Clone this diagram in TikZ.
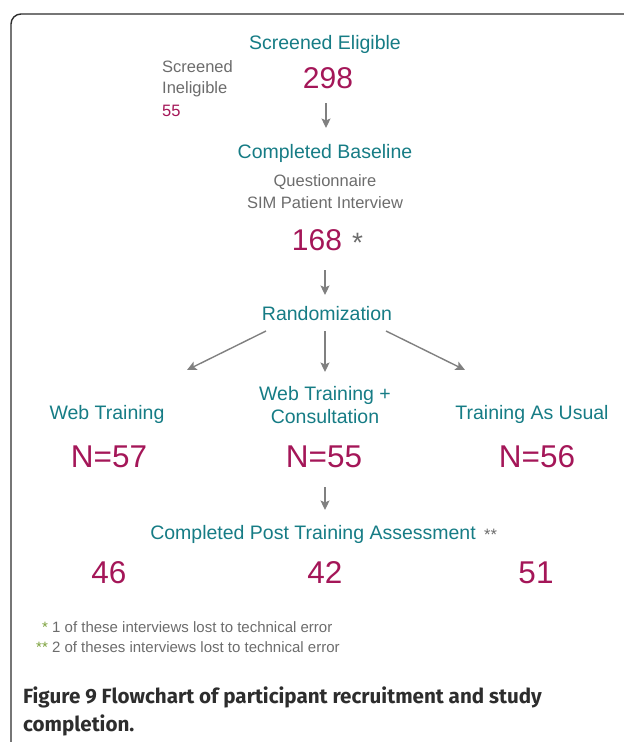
\documentclass[tikz,border=0pt]{standalone}
\usepackage{fontspec}
\setmainfont{Liberation Sans}
\newfontfamily\capfont{Fira Sans}
\usetikzlibrary{
    arrows.meta
  , positioning
}

\definecolor{flowteal}{RGB}{22,124,133}
\definecolor{flowred}{RGB}{164,22,88}
\definecolor{flowgray}{RGB}{108,108,108}
\definecolor{arrowgray}{RGB}{128,128,128}
\definecolor{stargreen}{RGB}{122,160,58}
\definecolor{framegray}{RGB}{45,45,45}

\tikzset{
    stage/.style={text=flowteal, font=\fontsize{19.5}{23}\selectfont, inner sep=0pt, anchor=base},
    note/.style={text=flowgray, font=\fontsize{16.5}{22}\selectfont, inner sep=0pt, anchor=base},
    count/.style={text=flowred, font=\fontsize{31.5}{36}\selectfont, inner sep=0pt, anchor=base},
    foot/.style={text=flowgray, font=\fontsize{15}{20}\selectfont, inner sep=0pt, anchor=base west},
    caption/.style={text=framegray, font=\capfont\bfseries\fontsize{20.6}{28}\selectfont, inner sep=0pt, anchor=base west},
    flowarrow/.style={draw=arrowgray, line width=1.4pt, -{Stealth[length=9.5pt, width=9pt, inset=2pt]}}
}

\begin{document}
\begin{tikzpicture}[x=1pt, y=-1pt]
  \useasboundingbox (0,0) rectangle (624,742);
  % Frame
  \draw[framegray, line width=1.4pt, rounded corners=10pt] (11,745) -- (11,14) -- (630,14);
  % Screening
  \node[stage] (eligible) at (325,49) {Screened Eligible};
  \node[note, anchor=base west] (inel1) at (162,72) {Screened};
  \node[note, anchor=base west] (inel2) at (162,93) {Ineligible};
  \node[note, anchor=base west, text=flowred] (inel3) at (162,116) {55};
  \node[count, font=\fontsize{30}{36}\selectfont] (n298) at (328,88) {298};
  % Baseline
  \node[stage] (baseline) at (325,158) {Completed Baseline};
  \node[note] (quest) at (325,186) {Questionnaire};
  \node[note] (sim) at (325,208) {SIM Patient Interview};
  \node[count, font=\fontsize{30}{36}\selectfont] (n168) at (317,250) {168};
  \node[note, anchor=base west, font=\fontsize{28}{30}\selectfont] (star1) at (352,252) {*};
  % Randomization
  \node[stage] (rand) at (327,320) {Randomization};
  % Arms
  \node[stage] (web) at (107,419) {Web Training};
  \node[stage] (webc1) at (325,400) {Web Training +};
  \node[stage] (webc2) at (325,423) {Consultation};
  \node[stage] (usual) at (532,419) {Training As Usual};
  \node[count] (n57) at (109,467) {N=57};
  \node[count] (n55) at (324,467) {N=55};
  \node[count] (n56) at (537,467) {N=56};
  % Post training
  \node[stage] (post) at (313,539) {Completed Post Training Assessment};
  \node[note, anchor=base west] (star2) at (484,540) {**};
  \node[count] (n46) at (109,583) {46};
  \node[count] (n42) at (325,583) {42};
  \node[count] (n51) at (536,583) {51};
  % Footnotes
  \node[foot] (foot1) at (42,632) {\textcolor{stargreen}{*} 1 of these interviews lost to technical error};
  \node[foot] (foot2) at (36,652) {\textcolor{stargreen}{**} 2 of theses interviews lost to technical error};
  % Caption
  \node[caption] (cap1) at (23,703) {Figure 9 Flowchart of participant recruitment and study};
  \node[caption] (cap2) at (23,731) {completion.};
  % Arrow ends
  \coordinate (a1top) at (326,103);
  \coordinate (a1bot) at (326,128);
  \coordinate (a2top) at (325,270);
  \coordinate (a2bot) at (325,295);
  \coordinate (rleft) at (266,331);
  \coordinate (rmid) at (325,331);
  \coordinate (rright) at (386,331);
  \coordinate (webtop) at (187,370);
  \coordinate (webctop) at (325,372);
  \coordinate (usualtop) at (465,370);
  \coordinate (a3top) at (325,487);
  \coordinate (a3bot) at (325,510);
  % Arrows
  \draw[flowarrow] (a1top) -- (a1bot);
  \draw[flowarrow] (a2top) -- (a2bot);
  \draw[flowarrow] (rleft) -- (webtop);
  \draw[flowarrow] (rmid) -- (webctop);
  \draw[flowarrow] (rright) -- (usualtop);
  \draw[flowarrow] (a3top) -- (a3bot);
\end{tikzpicture}
\end{document}
